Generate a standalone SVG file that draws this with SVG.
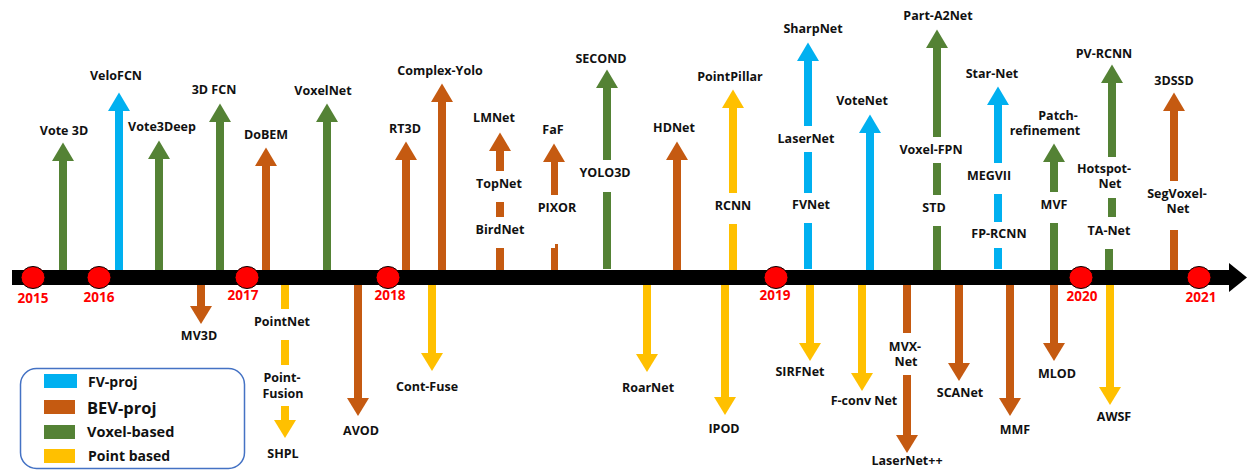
<svg xmlns="http://www.w3.org/2000/svg" width="1254" height="470" viewBox="0 0 1254 470">
  <style>
    .lbl { font-family: "Open Sans", "Liberation Sans", sans-serif; font-weight: 700; font-size: 12.5px; fill: #111; text-anchor: middle; }
    .yr { font-family: "Open Sans", "Liberation Sans", sans-serif; font-weight: 700; font-size: 13.5px; fill: #FF0000; text-anchor: middle; }
    .leg { font-family: "Open Sans", "Liberation Sans", sans-serif; font-weight: 700; fill: #111; }
    .fv { fill: #00B0F0; }
    .bev { fill: #C55A11; }
    .vox { fill: #548235; }
    .pt { fill: #FFC000; }
    .dot { fill: #FF0000; stroke: #000; stroke-width: 1; }
  </style>
  <defs>
    <!-- arrow heads, origin at the head base centre -->
    <path id="up" d="M-11 0 L0 -18.5 L11 0 Z"/>
    <path id="down" d="M-11 0 L0 18 L11 0 Z"/>
  </defs>

  <rect width="1254" height="470" fill="#fff"/>

  <!-- timeline axis -->
  <g id="axis">
    <rect x="12" y="270" width="1220" height="15" fill="#000"/>
    <path d="M1229 263 L1247 277.5 L1229 292 Z" fill="#000"/>
    <ellipse class="dot" cx="33" cy="277.5" rx="12" ry="11"/>
    <ellipse class="dot" cx="99" cy="277.5" rx="12" ry="11"/>
    <ellipse class="dot" cx="247" cy="277.5" rx="12" ry="11"/>
    <ellipse class="dot" cx="388" cy="277.5" rx="12" ry="11"/>
    <ellipse class="dot" cx="776" cy="277.5" rx="12" ry="11"/>
    <ellipse class="dot" cx="1081" cy="277.5" rx="12" ry="11"/>
    <ellipse class="dot" cx="1199" cy="277.5" rx="12" ry="11"/>
    <text class="yr" x="33" y="303">2015</text>
    <text class="yr" x="99" y="302">2016</text>
    <text class="yr" x="243" y="300">2017</text>
    <text class="yr" x="390" y="300">2018</text>
    <text class="yr" x="775" y="300">2019</text>
    <text class="yr" x="1082" y="301">2020</text>
    <text class="yr" x="1201" y="302">2021</text>
  </g>

  <!-- arrows rising from / dropping below the axis -->
  <g id="connectors">
    <!-- upward -->
    <g class="vox"><rect x="59" y="160" width="8" height="110"/><use href="#up" x="63" y="161"/></g>
    <g class="fv"><rect x="115" y="110" width="8" height="160"/><use href="#up" x="119" y="111"/></g>
    <g class="vox"><rect x="155" y="158" width="8" height="112"/><use href="#up" x="159" y="159"/></g>
    <g class="vox"><rect x="216" y="121" width="8" height="149"/><use href="#up" x="220" y="122"/></g>
    <g class="bev"><rect x="262" y="165" width="8" height="105"/><use href="#up" x="266" y="166"/></g>
    <g class="vox"><rect x="323" y="121" width="8" height="149"/><use href="#up" x="327" y="122"/></g>
    <g class="bev"><rect x="402" y="159" width="8" height="111"/><use href="#up" x="406" y="160"/></g>
    <g class="bev"><rect x="438" y="101" width="8" height="169"/><use href="#up" x="442" y="102"/></g>
    <g class="bev">
      <rect x="496" y="150" width="8" height="21"/><rect x="496" y="202" width="8" height="15"/><rect x="496" y="248" width="8" height="22"/>
      <use href="#up" x="500" y="151"/>
    </g>
    <g class="bev">
      <rect x="551" y="161" width="7" height="34"/><rect x="551" y="248" width="7" height="22"/><rect x="555" y="244" width="3" height="5"/>
      <use href="#up" x="554" y="162"/>
    </g>
    <g class="vox">
      <rect x="603" y="87" width="8" height="73"/><rect x="603" y="192" width="8" height="77"/>
      <use href="#up" x="607" y="88"/>
    </g>
    <g class="bev"><rect x="673" y="159" width="8" height="111"/><use href="#up" x="677" y="160"/></g>
    <g class="pt">
      <rect x="729" y="107" width="8" height="86"/><rect x="729" y="224" width="8" height="46"/>
      <use href="#up" x="733" y="108"/>
    </g>
    <g class="fv">
      <rect x="804" y="60" width="8" height="66"/><rect x="804" y="152" width="8" height="41"/><rect x="804" y="223" width="8" height="46"/>
      <use href="#up" x="808" y="61"/>
    </g>
    <g class="fv"><rect x="866" y="132" width="8" height="138"/><use href="#up" x="870" y="133"/></g>
    <g class="vox">
      <rect x="933" y="47" width="8" height="90"/><rect x="933" y="163" width="8" height="32"/><rect x="933" y="226" width="8" height="44"/>
      <use href="#up" x="937" y="48"/>
    </g>
    <g class="fv">
      <rect x="994" y="104" width="8" height="59"/><rect x="994" y="194" width="8" height="28"/><rect x="994" y="248" width="8" height="21"/>
      <use href="#up" x="998" y="105"/>
    </g>
    <g class="vox">
      <rect x="1050" y="161" width="8" height="31"/><rect x="1050" y="223" width="8" height="47"/>
      <use href="#up" x="1054" y="162"/>
    </g>
    <g class="vox">
      <rect x="1108" y="82" width="8" height="75"/><rect x="1108" y="198" width="8" height="19"/><rect x="1105" y="249" width="8" height="21"/>
      <use href="#up" x="1112" y="83"/>
    </g>
    <g class="bev">
      <rect x="1170" y="110" width="8" height="71"/><rect x="1170" y="230" width="8" height="40"/>
      <use href="#up" x="1174" y="111"/>
    </g>

    <!-- downward -->
    <g class="bev"><rect x="197" y="285" width="8" height="22"/><use href="#down" x="201" y="306"/></g>
    <g class="pt">
      <rect x="281" y="285" width="8" height="24"/><rect x="281" y="340" width="8" height="25"/><rect x="281" y="406" width="8" height="15"/>
      <use href="#down" x="285" y="420"/>
    </g>
    <g class="bev"><rect x="354" y="285" width="8" height="114"/><use href="#down" x="358" y="398"/></g>
    <g class="pt"><rect x="428" y="285" width="8" height="69"/><use href="#down" x="432" y="353"/></g>
    <g class="pt"><rect x="643" y="285" width="8" height="70"/><use href="#down" x="647" y="354"/></g>
    <g class="pt"><rect x="721" y="285" width="8" height="113"/><use href="#down" x="725" y="397"/></g>
    <g class="pt"><rect x="806" y="285" width="8" height="59"/><use href="#down" x="810" y="343"/></g>
    <g class="pt"><rect x="858" y="285" width="8" height="89"/><use href="#down" x="862" y="373"/></g>
    <g class="bev">
      <rect x="903" y="285" width="8" height="48"/><rect x="903" y="375" width="8" height="61"/>
      <use href="#down" x="907" y="435"/>
    </g>
    <g class="bev"><rect x="955" y="285" width="8" height="79"/><use href="#down" x="959" y="363"/></g>
    <g class="bev"><rect x="1006" y="285" width="8" height="114"/><use href="#down" x="1010" y="398"/></g>
    <g class="bev"><rect x="1050" y="285" width="8" height="59"/><use href="#down" x="1054" y="343"/></g>
    <g class="pt"><rect x="1106" y="285" width="8" height="103"/><use href="#down" x="1110" y="387"/></g>
  </g>

  <!-- method labels above the axis -->
  <g id="vote3d"><text class="lbl" x="64" y="135">Vote 3D</text></g>
  <g id="velofcn"><text class="lbl" x="116" y="80">VeloFCN</text></g>
  <g id="vote3deep"><text class="lbl" x="162" y="131">Vote3Deep</text></g>
  <g id="fcn3d"><text class="lbl" x="214" y="94">3D FCN</text></g>
  <g id="dobem"><text class="lbl" x="266" y="139">DoBEM</text></g>
  <g id="voxelnet"><text class="lbl" x="323" y="95">VoxelNet</text></g>
  <g id="rt3d"><text class="lbl" x="405" y="133">RT3D</text></g>
  <g id="complexyolo"><text class="lbl" x="440" y="75">Complex-Yolo</text></g>
  <g id="lmnet">
    <text class="lbl" x="494" y="122">LMNet</text>
    <text class="lbl" x="499" y="188">TopNet</text>
    <text class="lbl" x="500" y="234">BirdNet</text>
  </g>
  <g id="faf">
    <text class="lbl" x="553" y="134">FaF</text>
    <text class="lbl" x="557" y="212">PIXOR</text>
  </g>
  <g id="second">
    <text class="lbl" x="601" y="63">SECOND</text>
    <text class="lbl" x="605" y="177">YOLO3D</text>
  </g>
  <g id="hdnet"><text class="lbl" x="674" y="132">HDNet</text></g>
  <g id="pointpillar">
    <text class="lbl" x="730" y="81">PointPillar</text>
    <text class="lbl" x="733" y="210">RCNN</text>
  </g>
  <g id="sharpnet">
    <text class="lbl" x="813" y="33">SharpNet</text>
    <text class="lbl" x="806" y="143">LaserNet</text>
    <text class="lbl" x="811" y="209">FVNet</text>
  </g>
  <g id="votenet"><text class="lbl" x="862" y="105">VoteNet</text></g>
  <g id="parta2net">
    <text class="lbl" x="938" y="20">Part-A2Net</text>
    <text class="lbl" x="931" y="154">Voxel-FPN</text>
    <text class="lbl" x="934" y="212">STD</text>
  </g>
  <g id="starnet">
    <text class="lbl" x="992" y="78">Star-Net</text>
    <text class="lbl" x="989" y="180">MEGVII</text>
    <text class="lbl" x="999" y="238">FP-RCNN</text>
  </g>
  <g id="patchrefinement">
    <text class="lbl" x="1058" y="120">Patch-</text>
    <text class="lbl" x="1045" y="135">refinement</text>
    <text class="lbl" x="1054" y="209">MVF</text>
  </g>
  <g id="pvrcnn">
    <text class="lbl" x="1104" y="58">PV-RCNN</text>
    <text class="lbl" x="1104" y="173">Hotspot-</text>
    <text class="lbl" x="1110" y="188">Net</text>
    <text class="lbl" x="1109" y="235">TA-Net</text>
  </g>
  <g id="sssd3d">
    <text class="lbl" x="1174" y="85">3DSSD</text>
    <text class="lbl" x="1177" y="198">SegVoxel-</text>
    <text class="lbl" x="1178" y="213">Net</text>
  </g>

  <!-- method labels below the axis -->
  <g id="mv3d"><text class="lbl" x="199" y="340">MV3D</text></g>
  <g id="pointnet">
    <text class="lbl" x="282" y="326">PointNet</text>
    <text class="lbl" x="282" y="382">Point-</text>
    <text class="lbl" x="283" y="398">Fusion</text>
    <text class="lbl" x="283" y="458">SHPL</text>
  </g>
  <g id="avod"><text class="lbl" x="361" y="435">AVOD</text></g>
  <g id="contfuse"><text class="lbl" x="427" y="391">Cont-Fuse</text></g>
  <g id="roarnet"><text class="lbl" x="648" y="392">RoarNet</text></g>
  <g id="ipod"><text class="lbl" x="724" y="433">IPOD</text></g>
  <g id="sirfnet"><text class="lbl" x="800" y="376">SIRFNet</text></g>
  <g id="fconvnet"><text class="lbl" x="864" y="405">F-conv Net</text></g>
  <g id="mvxnet">
    <text class="lbl" x="905" y="351">MVX-</text>
    <text class="lbl" x="906" y="366">Net</text>
    <text class="lbl" x="907" y="465">LaserNet++</text>
  </g>
  <g id="scanet"><text class="lbl" x="960" y="397">SCANet</text></g>
  <g id="mmf"><text class="lbl" x="1015" y="434">MMF</text></g>
  <g id="mlod"><text class="lbl" x="1057" y="378">MLOD</text></g>
  <g id="awsf"><text class="lbl" x="1114" y="421">AWSF</text></g>

  <!-- category key -->
  <g id="legend">
    <rect x="20.5" y="368.5" width="224" height="100" rx="16" fill="none" stroke="#4472C4" stroke-width="1.5"/>
    <rect class="fv" x="44" y="374" width="33" height="14"/>
    <rect class="bev" x="44" y="400" width="31" height="14"/>
    <rect class="vox" x="44" y="425" width="31" height="14"/>
    <rect class="pt" x="44" y="449" width="31" height="14"/>
    <text class="leg" x="88" y="387" font-size="14">FV-proj</text>
    <text class="leg" x="87" y="414" font-size="16.5">BEV-proj</text>
    <text class="leg" x="87" y="437" font-size="14.5">Voxel-based</text>
    <text class="leg" x="88" y="461" font-size="14">Point based</text>
  </g>
</svg>
